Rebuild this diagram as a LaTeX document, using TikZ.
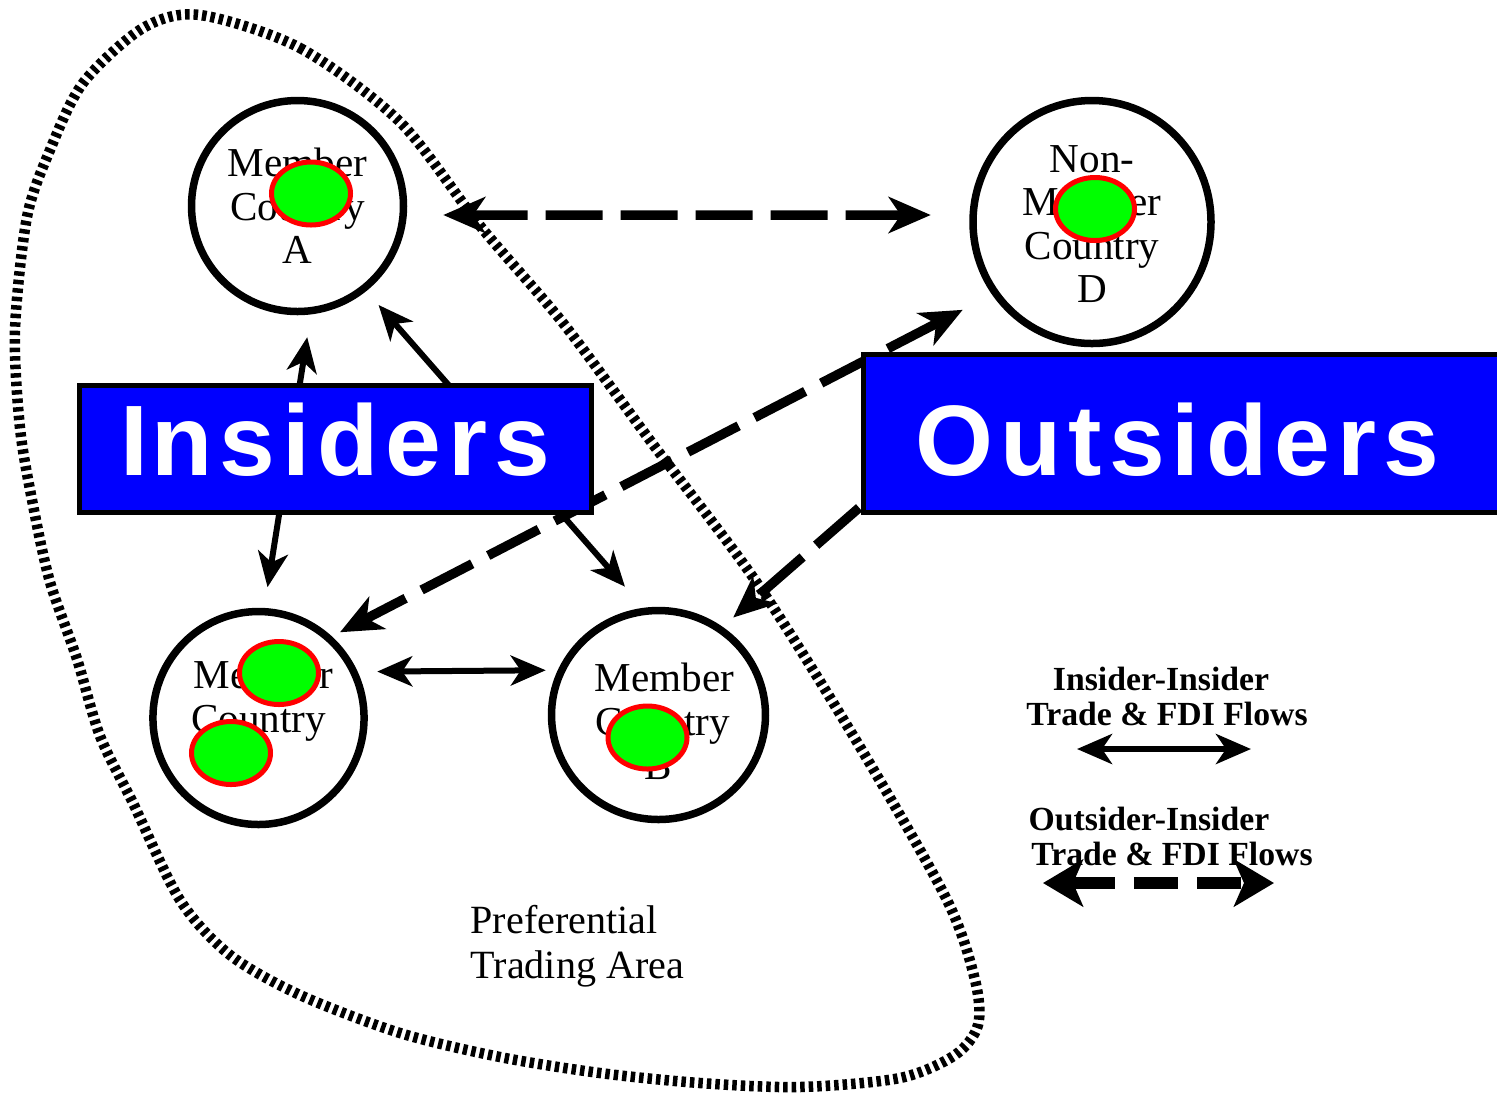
\documentclass[tikz,border=0pt]{standalone}
\usepackage{fontspec}
\setmainfont{Liberation Serif}
\newfontfamily\tagfont{Liberation Sans}[LetterSpace=7]
\usetikzlibrary{arrows.meta, shapes.geometric}
\definecolor{tagblue}{RGB}{0,0,255}
\definecolor{firmgreen}{RGB}{0,255,0}
\definecolor{firmred}{RGB}{255,0,0}

\begin{document}
\begin{tikzpicture}[x=0.1mm, y=-0.1mm,
  country/.style={ellipse, draw, line width=0.75mm, inner sep=0pt, align=center,
    font=\fontsize{11.7}{12.4}\selectfont},
  firm/.style={ellipse, draw=firmred, fill=firmgreen, line width=0.5mm,
    minimum width=7.9mm, minimum height=6.3mm, inner sep=0pt},
  tagbox/.style={rectangle, draw, fill=tagblue, line width=0.5mm, inner sep=0pt},
  tagtext/.style={text=white, font=\tagfont\bfseries\fontsize{28.5}{30}\selectfont,
    anchor=base west, inner sep=0pt},
  caption/.style={font=\fontsize{11.4}{12.8}\selectfont, anchor=base west, inner sep=0pt},
  legtext/.style={font=\bfseries\fontsize{9.6}{11}\selectfont, anchor=base, inner sep=0pt},
  inflow/.style={line width=0.6mm, >={Stealth[length=3.5mm, width=3mm, inset=1mm]}},
  outflow/.style={line width=0.95mm, dash pattern=on 5.7mm off 1.8mm,
    >={Stealth[length=4.2mm, width=3.6mm, inset=1.2mm]}},
  legdash/.style={line width=1.2mm, dash pattern=on 4.4mm off 1.9mm,
    >={Stealth[length=4mm, width=4.7mm, inset=1mm]}},
  ptaline/.style={line width=1.05mm, dash pattern=on 0.45mm off 0.4mm},
]
\useasboundingbox (0,0) rectangle (1497,1095);

% member and non-member countries
\node[country, minimum width=21.2mm, minimum height=21.1mm] (A) at (297.5,206) {Member\\Country\\A};
\node[country, minimum width=23.8mm, minimum height=24.3mm] (D) at (1092,222) {\rule{0pt}{3.1mm}Non-\\Member\\Country\\D};
\node[country, minimum width=21.0mm, minimum height=21.3mm] (C) at (258.5,718) {\hspace*{1mm}Member\\Country\\\phantom{C}};
\node[country, minimum width=20.6mm, minimum height=20.9mm] (B) at (658.5,715) {\rule{0pt}{4.1mm}\hspace*{1.2mm}Member\\\hspace*{0.8mm}Country\\B};

% insider-insider flows
\draw[inflow, <->, shorten <=2.3mm, shorten >=2.1mm] (A.-83.2) -- (C.87.3);
\draw[inflow, <->, shorten <=1.85mm, shorten >=2.8mm] (A.-51.3) -- (B.98);
\draw[inflow, <->, shorten <=1.95mm, shorten >=1.2mm] (C.25) -- (B.156.25);

% outsider-insider flows
\draw[outflow, <->, shorten <=3.6mm, shorten >=3.85mm] ([yshift=-0.9mm]A.east) -- ([yshift=0.7mm]D.west);
\draw[outflow, <->, shorten <=3.3mm, shorten >=0.9mm] (D.216.1) -- (C.48.1);
\draw[outflow, ->, shorten <=3mm, shorten >=1.4mm] (D.251.7) -- (B.54);

% group labels
\node[tagbox, minimum width=51.2mm, minimum height=12.7mm] (ins) at (335.5,449) {};
\node[tagtext] (insT) at (120,475) {I\kern0.3mm nsiders};
\node[tagbox, minimum width=65.65mm, minimum height=15.8mm] (outs) at (1191.75,433.5) {};
\node[tagtext] (outsT) at (915,475) {Outsiders};

% firms located in the countries
\node[firm] (fA) at (311,193.5) {};
\node[firm] (fD) at (1095,209) {};
\node[firm] (fC1) at (279,673) {};
\node[firm] (fC2) at (231,753) {};
\node[firm] (fB) at (647.5,737.5) {};

% boundary of the preferential trading area
\draw[ptaline] plot[smooth cycle] coordinates {
  (200,15) (300,48) (400,122) (481,227) (563,323) (652,443) (757,583)
  (860,747) (947,900) (975,980) (978,1025) (955,1055) (900,1078) (800,1087)
  (700,1083) (600,1073) (500,1057) (400,1033) (300,995) (230,955) (180,900)
  (133,803) (100,736) (77,659) (50,582) (33,505) (20,428) (15,330) (27,217)
  (50,150) (83,83) (143,28)};
\node[caption] (pta1) at (470,933) {Preferential};
\node[caption] (pta2) at (470,978) {Trading Area};

% legend
\node[legtext] (leg1) at (1161,690) {Insider-Insider};
\node[legtext] (leg2) at (1167,725) {Trade \& FDI Flows};
\coordinate (l1a) at (1077,749);
\coordinate (l1b) at (1251,749);
\draw[inflow, <->] (l1a) -- (l1b);
\node[legtext] (leg3) at (1149,830) {Outsider-Insider};
\node[legtext] (leg4) at (1172,865) {Trade \& FDI Flows};
\coordinate (l2a) at (1043,883);
\coordinate (l2b) at (1274,883);
\draw[legdash, <->] (l2a) -- (l2b);
\end{tikzpicture}
\end{document}
